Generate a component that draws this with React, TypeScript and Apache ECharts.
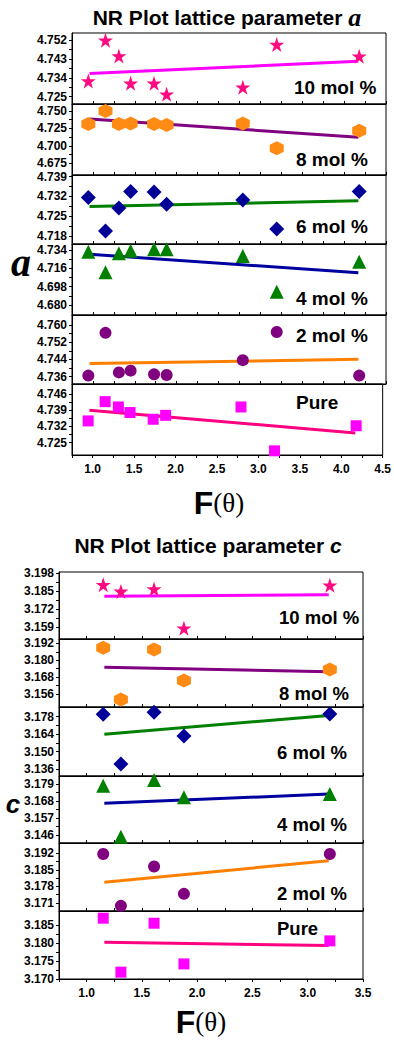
import React, { useEffect, useRef } from "react";
import * as echarts from "echarts";

// ---------- Data: lattice parameter a ----------
const X_A = [0.945, 1.15, 1.31, 1.45, 1.73, 1.88, 2.79, 3.195, 4.18];
const A_10 = [4.7325, 4.752, 4.7445, 4.7314, 4.7314, 4.7262, 4.7295, 4.75, 4.7444];
const A_8 = [4.7313, 4.75, 4.7313, 4.732, 4.7313, 4.73, 4.732, 4.6964, 4.7217];
const A_6 = [4.7316, 4.7198, 4.7279, 4.7338, 4.7336, 4.7293, 4.7308, 4.7205, 4.7338];
const A_4 = [4.7323, 4.7121, 4.7309, 4.7333, 4.7347, 4.7347, 4.7281, 4.6931, 4.7225];
const A_2 = [4.7365, 4.7564, 4.738, 4.7388, 4.7371, 4.7368, 4.7437, 4.7568, 4.7365];
const A_0 = [4.7344, 4.7427, 4.7404, 4.738, 4.7351, 4.7368, 4.7404, 4.7215, 4.7323];
const FIT_X_A = [0.96, 4.17];
const FIT_A_10 = [4.7361, 4.742];
const FIT_A_8 = [4.7386, 4.7122];
const FIT_A_6 = [4.7285, 4.7305];
const FIT_A_4 = [4.7298, 4.7117];
const FIT_A_2 = [4.7421, 4.7441];
const FIT_A_0 = [4.739, 4.7292];
const TICKS_A_10 = [4.725, 4.734, 4.743, 4.752];
const TICKS_A_8 = [4.675, 4.7, 4.725, 4.75];
const TICKS_A_6 = [4.718, 4.725, 4.732, 4.739];
const TICKS_A_4 = [4.68, 4.698, 4.716, 4.734];
const TICKS_A_2 = [4.736, 4.744, 4.752, 4.76];
const TICKS_A_0 = [4.725, 4.732, 4.739, 4.746];
const X_TICKS_A = [1.0, 1.5, 2.0, 2.5, 3.0, 3.5, 4.0, 4.5];

// ---------- Data: lattice parameter c ----------
const X_C = [1.15, 1.31, 1.61, 1.88, 3.2];
const C_10 = [3.1898, 3.185, 3.1867, 3.1583, 3.1894];
const C_8 = [3.1889, 3.1522, 3.1877, 3.1656, 3.1734];
const C_6 = [3.1799, 3.14, 3.1815, 3.1626, 3.1801];
const C_4 = [3.1779, 3.1449, 3.1816, 3.1704, 3.1725];
const C_2 = [3.1917, 3.1697, 3.1864, 3.1748, 3.1917];
const C_0 = [3.1869, 3.1719, 3.1855, 3.1742, 3.1806];
const FIT_X_C = [1.16, 3.19];
const FIT_C_10 = [3.1814, 3.1826];
const FIT_C_8 = [3.1751, 3.1718];
const FIT_C_6 = [3.164, 3.179];
const FIT_C_4 = [3.1665, 3.1725];
const FIT_C_2 = [3.1797, 3.1889];
const FIT_C_0 = [3.1802, 3.1793];
const TICKS_C_10 = [3.159, 3.172, 3.185, 3.198];
const TICKS_C_8 = [3.156, 3.168, 3.18, 3.192];
const TICKS_C_6 = [3.136, 3.15, 3.164, 3.178];
const TICKS_C_4 = [3.146, 3.157, 3.168, 3.179];
const TICKS_C_2 = [3.171, 3.178, 3.185, 3.192];
const TICKS_C_0 = [3.17, 3.175, 3.18, 3.185];
const X_TICKS_C = [1.0, 1.5, 2.0, 2.5, 3.0, 3.5];

const LABELS = ["10 mol %", "8 mol %", "6 mol %", "4 mol %", "2 mol %", "Pure"];

const STAR = "path://M50,0 L61.8,35.5 L99,35.5 L68.8,57.4 L80.3,93 L50,71 L19.7,93 L31.2,57.4 L1,35.5 L38.2,35.5 Z";
const HEX = "path://M50,0 L93.3,25 L93.3,75 L50,100 L6.7,75 L6.7,25 Z";

const MARKERS = [
  { symbol: STAR, size: 15, color: "#FF0A80" },
  { symbol: HEX, size: 14, color: "#FF8A14" },
  { symbol: "diamond", size: 15, color: "#000099" },
  { symbol: "triangle", size: 14, color: "#008000" },
  { symbol: "circle", size: 12, color: "#800080" },
  { symbol: "rect", size: 11, color: "#FF00FF" },
];
const LINE_COLORS = ["#FF00FF", "#800080", "#008000", "#0000A0", "#FF8000", "#FF0080"];

const FONT = "'Liberation Sans', Arial, sans-serif";

type Block = {
  xs: number[];
  ys: number[][];
  fitX: number[];
  fits: number[][];
  ticks: number[][];
  ranges: number[][];
  xMin: number;
  xMax: number;
  xTicks: number[];
  left: number;
  right: number;
  bounds: number[];
};

const BLOCK_A: Block = {
  xs: X_A,
  ys: [A_10, A_8, A_6, A_4, A_2, A_0],
  fitX: FIT_X_A,
  fits: [FIT_A_10, FIT_A_8, FIT_A_6, FIT_A_4, FIT_A_2, FIT_A_0],
  ticks: [TICKS_A_10, TICKS_A_8, TICKS_A_6, TICKS_A_4, TICKS_A_2, TICKS_A_0],
  ranges: [
    [4.7215, 4.7555],
    [4.658, 4.76],
    [4.7152, 4.7396],
    [4.6702, 4.7399],
    [4.7326, 4.7647],
    [4.7197, 4.7503],
  ],
  xMin: 0.75,
  xMax: 4.5,
  xTicks: X_TICKS_A,
  left: 72,
  right: 8,
  bounds: [33, 104, 175, 244, 315, 384, 455],
};

const BLOCK_C: Block = {
  xs: X_C,
  ys: [C_10, C_8, C_6, C_4, C_2, C_0],
  fitX: FIT_X_C,
  fits: [FIT_C_10, FIT_C_8, FIT_C_6, FIT_C_4, FIT_C_2, FIT_C_0],
  ticks: [TICKS_C_10, TICKS_C_8, TICKS_C_6, TICKS_C_4, TICKS_C_2, TICKS_C_0],
  ranges: [
    [3.1506, 3.199],
    [3.1468, 3.1951],
    [3.1304, 3.1858],
    [3.1408, 3.1842],
    [3.1675, 3.1964],
    [3.17, 3.1889],
  ],
  xMin: 0.75,
  xMax: 3.5,
  xTicks: X_TICKS_C,
  left: 59,
  right: 31,
  bounds: [572, 639, 707, 776, 843, 911, 979],
};

function quarterTicks(min: number, max: number): number[] {
  const out: number[] = [];
  for (let v = Math.ceil(min / 0.25) * 0.25; v <= max + 1e-9; v += 0.25) out.push(+v.toFixed(2));
  return out;
}
function halfSteps(t: number[]): number[] {
  const out: number[] = [];
  for (let i = 0; i < t.length; i++) {
    out.push(t[i]);
    if (i < t.length - 1) out.push((t[i] + t[i + 1]) / 2);
  }
  return out;
}

function buildBlock(b: Block, offset: number, opt: any) {
  for (let p = 0; p < 6; p++) {
    const idx = offset + p;
    const top = b.bounds[p];
    const h = b.bounds[p + 1] - b.bounds[p];
    const last = p === 5;
    opt.grid.push({
      left: b.left,
      right: b.right,
      top,
      height: h,
      show: true,
      borderColor: "#000",
      borderWidth: 1,
      backgroundColor: "transparent",
    });
    opt.xAxis.push({
      type: "value",
      gridIndex: idx,
      min: b.xMin,
      max: b.xMax,
      splitLine: { show: false },
      axisLine: { show: true, lineStyle: { color: "#000", width: 1 } },
      axisTick: {
        show: true,
        inside: !last,
        length: 3,
        customValues: quarterTicks(b.xMin, b.xMax),
        lineStyle: { color: "#000" },
      },
      axisLabel: {
        show: last,
        customValues: b.xTicks,
        formatter: (v: number) => v.toFixed(1),
        color: "#000",
        fontWeight: "bold",
        fontFamily: FONT,
        fontSize: 12,
        margin: 8,
        hideOverlap: false,
      },
    });
    opt.yAxis.push({
      type: "value",
      gridIndex: idx,
      min: b.ranges[p][0],
      max: b.ranges[p][1],
      splitLine: { show: false },
      axisLine: { show: true, lineStyle: { color: "#000", width: 1 } },
      axisTick: {
        show: true,
        inside: false,
        length: 3,
        customValues: halfSteps(b.ticks[p]),
        lineStyle: { color: "#000" },
      },
      axisLabel: {
        customValues: b.ticks[p],
        formatter: (v: number) => v.toFixed(3),
        color: "#000",
        fontWeight: "bold",
        fontFamily: FONT,
        fontSize: 12,
        margin: 5,
      },
    });
    const m = MARKERS[p];
    opt.series.push({
      type: "line",
      xAxisIndex: idx,
      yAxisIndex: idx,
      data: b.fitX.map((x, i) => [x, b.fits[p][i]]),
      showSymbol: false,
      symbol: "none",
      lineStyle: { color: LINE_COLORS[p], width: 3 },
      z: 2,
    });
    opt.series.push({
      type: "scatter",
      xAxisIndex: idx,
      yAxisIndex: idx,
      data: b.xs.map((x, i) => [x, b.ys[p][i]]),
      symbol: m.symbol,
      symbolSize: m.size,
      itemStyle: { color: m.color, opacity: 1 },
      clip: false,
      z: 3,
    });
  }
}

const PANEL_LABELS_A = [
  { x: 294, y: 87 },
  { x: 296, y: 159 },
  { x: 296, y: 226 },
  { x: 296, y: 298 },
  { x: 296, y: 335 },
  { x: 296, y: 402 },
];
const PANEL_LABELS_C = [
  { x: 279, y: 617 },
  { x: 279, y: 693 },
  { x: 277, y: 752 },
  { x: 277, y: 824 },
  { x: 277, y: 893 },
  { x: 277, y: 928 },
];

export default function App() {
  const ref = useRef<HTMLDivElement>(null);
  useEffect(() => {
    document.body.style.margin = "0";
    if (!ref.current) return;
    const chart = echarts.init(ref.current, null, { renderer: "svg" });
    const opt: any = {
      animation: false,
      backgroundColor: "#fff",
      grid: [],
      xAxis: [],
      yAxis: [],
      series: [],
      graphic: [],
    };
    buildBlock(BLOCK_A, 0, opt);
    buildBlock(BLOCK_C, 6, opt);

    const g = opt.graphic;
    const titleRich = {
      t: { fontFamily: FONT, fontWeight: "bold", fontSize: 21, fill: "#000" },
      a: { fontFamily: "'Liberation Serif', serif", fontStyle: "italic", fontWeight: "bold", fontSize: 26, fill: "#000" },
      c: { fontFamily: FONT, fontStyle: "italic", fontWeight: "bold", fontSize: 21, fill: "#000" },
    };
    g.push({
      type: "text",
      x: 227,
      y: 17,
      style: { text: "{t|NR Plot lattice parameter }{a|a}", rich: titleRich, align: "center", verticalAlign: "middle" },
    });
    g.push({
      type: "text",
      x: 208,
      y: 545,
      style: { text: "{t|NR Plot lattice parameter }{c|c}", rich: titleRich, align: "center", verticalAlign: "middle" },
    });
    const xRich = {
      f: { fontFamily: FONT, fontWeight: "bold", fontSize: 32, fill: "#000" },
      p: { fontFamily: "'Liberation Serif', serif", fontSize: 27, fill: "#000" },
    };
    g.push({
      type: "text",
      x: 219,
      y: 503,
      style: { text: "{f|F}{p|(θ)}", rich: xRich, align: "center", verticalAlign: "middle" },
    });
    g.push({
      type: "text",
      x: 201,
      y: 1022,
      style: { text: "{f|F}{p|(θ)}", rich: xRich, align: "center", verticalAlign: "middle" },
    });
    g.push({
      type: "text",
      x: 21,
      y: 262,
      style: {
        text: "a",
        fontFamily: "'Liberation Serif', serif",
        fontStyle: "italic",
        fontWeight: "bold",
        fontSize: 40,
        fill: "#000",
        align: "center",
        verticalAlign: "middle",
      },
    });
    g.push({
      type: "text",
      x: 13,
      y: 804,
      style: {
        text: "c",
        fontFamily: FONT,
        fontStyle: "italic",
        fontWeight: "bold",
        fontSize: 26,
        fill: "#000",
        align: "center",
        verticalAlign: "middle",
      },
    });
    PANEL_LABELS_A.forEach((pos, i) => {
      g.push({
        type: "text",
        x: pos.x,
        y: pos.y,
        style: { text: LABELS[i], fontFamily: FONT, fontWeight: "bold", fontSize: 19, fill: "#000", verticalAlign: "middle" },
      });
    });
    PANEL_LABELS_C.forEach((pos, i) => {
      g.push({
        type: "text",
        x: pos.x,
        y: pos.y,
        style: { text: LABELS[i], fontFamily: FONT, fontWeight: "bold", fontSize: 18.5, fill: "#000", verticalAlign: "middle" },
      });
    });

    chart.setOption(opt);
    return () => chart.dispose();
  }, []);
  return <div ref={ref} style={{ width: 394, height: 1044 }} />;
}
